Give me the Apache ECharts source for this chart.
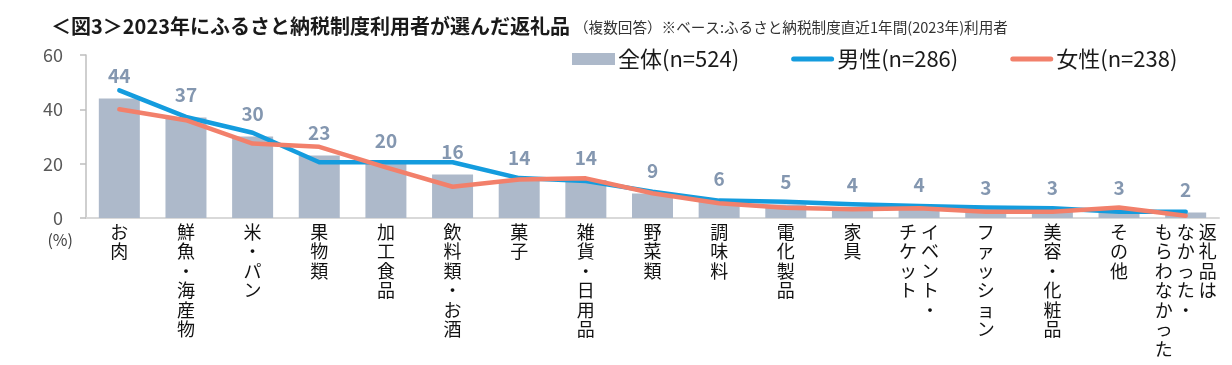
<!DOCTYPE html>
<html>
<head>
<meta charset="utf-8">
<script src="https://cdn.jsdelivr.net/npm/echarts@6/dist/echarts.min.js"></script>
<style>
  html, body { margin: 0; padding: 0; background: #fff; }
  #chart { width: 1232px; height: 365px; }
</style>
</head>
<body>
<div id="chart"></div>
<script>
// ---- data ----
const categories = [
  'お肉', '鮮魚・海産物', '米・パン', '果物類', '加工食品', '飲料類・お酒', '菓子', '雑貨・日用品',
  '野菜類', '調味料', '電化製品', '家具', 'イベント・\nチケット', 'ファッション', '美容・化粧品',
  'その他', '返礼品は\nなかった・\nもらわなかった'
];
const seriesNames = ['全体(n=524)', '男性(n=286)', '女性(n=238)'];
const totalValues  = [44, 37, 30, 23, 20, 16, 14, 14, 9, 6, 5, 4, 4, 3, 3, 3, 2];
const maleValues   = [47, 37.2, 31.4, 20.5, 20.5, 20.5, 14.7, 13.6, 9.7, 6.4, 6.0, 5.1, 4.4, 3.9, 3.6, 2.3, 2.3];
const femaleValues = [40, 36, 27.4, 26.2, 18.6, 11.5, 14.2, 14.6, 9.1, 5.4, 3.8, 3.2, 3.6, 2.3, 2.3, 3.9, 0.8];
const yTicks = { min: 0, max: 60, interval: 20 };
const titleMain = '＜図3＞2023年にふるさと納税制度利用者が選んだ返礼品';
const titleSub = '（複数回答）※ベース:ふるさと納税制度直近1年間(2023年)利用者';
const unitLabel = '(%)';

// ---- helpers ----
const FONT = '"Noto Sans CJK JP", "Noto Sans CJK SC", sans-serif';
function verticalText(label) {
  // columns read right-to-left (first column is rightmost)
  const cols = label.split('\n').map(s => Array.from(s));
  const rows = Math.max(...cols.map(c => c.length));
  const leftToRight = cols.slice().reverse();
  const lines = [];
  for (let r = 0; r < rows; r++) {
    lines.push(leftToRight.map(c => c[r] || '\u3000').join(' '));
  }
  return lines.join('\n');
}
const lineIcon = 'path://M2.5,0H40.5A2.5,2.5 0 0 1 40.5,5H2.5A2.5,2.5 0 0 1 2.5,0Z';

const chart = echarts.init(document.getElementById('chart'));
chart.setOption({
  animation: false,
  textStyle: { fontFamily: FONT },
  title: {
    left: 46, top: 8,
    text: '{b|' + titleMain + '}{n|' + titleSub + '}',
    textStyle: {
      fontWeight: 'normal',
      rich: {
        b: { fontFamily: FONT, fontSize: 20, fontWeight: 'bold', color: '#1a1a1a', lineHeight: 27 },
        n: { fontFamily: FONT, fontSize: 14.6, fontWeight: 'normal', color: '#333', lineHeight: 27, padding: [2, 0, 0, 4] }
      }
    }
  },
  legend: {
    left: 567, top: 43,
    itemWidth: 43, itemHeight: 12, itemGap: 52,
    textStyle: { fontFamily: FONT, fontSize: 22, color: '#1a1a1a', padding: [0, 0, 0, -2] },
    data: [
      { name: seriesNames[0], icon: 'rect' },
      { name: seriesNames[1], icon: lineIcon },
      { name: seriesNames[2], icon: lineIcon }
    ]
  },
  grid: { left: 86, right: 13, top: 55, bottom: 147, containLabel: false },
  xAxis: {
    type: 'category',
    data: categories,
    axisLine: { show: true, lineStyle: { color: '#d9d9d9', width: 2 } },
    axisTick: { show: false },
    axisLabel: {
      interval: 0, margin: 4,
      fontFamily: FONT, fontSize: 18, lineHeight: 19.5, color: '#111',
      verticalAlign: 'top',
      formatter: v => verticalText(v)
    }
  },
  yAxis: {
    type: 'value',
    min: yTicks.min, max: yTicks.max, interval: yTicks.interval,
    name: unitLabel,
    nameLocation: 'start',
    nameGap: 14,
    nameTextStyle: { fontFamily: FONT, fontSize: 16, color: '#404040', align: 'right', padding: [0, 13, 0, 0] },
    axisLine: { show: true, lineStyle: { color: '#bfbfbf', width: 1.5 } },
    axisTick: { show: true, length: 6, lineStyle: { color: '#bfbfbf', width: 1.5 } },
    splitLine: { show: false },
    axisLabel: { margin: 23, fontFamily: FONT, fontSize: 18, color: '#595959' }
  },
  series: [
    {
      name: seriesNames[0], type: 'bar', data: totalValues, barWidth: 41,
      itemStyle: { color: '#ADB9CA' },
      label: {
        show: true, position: 'top', distance: 13,
        fontFamily: FONT, fontSize: 19, fontWeight: 'bold', color: '#8497B0'
      },
      z: 2
    },
    {
      name: seriesNames[1], type: 'line', data: maleValues,
      symbol: 'none', color: '#149CDE',
      lineStyle: { width: 4.5, color: '#149CDE', cap: 'round', join: 'round' },
      z: 3
    },
    {
      name: seriesNames[2], type: 'line', data: femaleValues,
      symbol: 'none', color: '#F2806B',
      lineStyle: { width: 4.5, color: '#F2806B', cap: 'round', join: 'round' },
      z: 4
    }
  ]
});
</script>
</body>
</html>
